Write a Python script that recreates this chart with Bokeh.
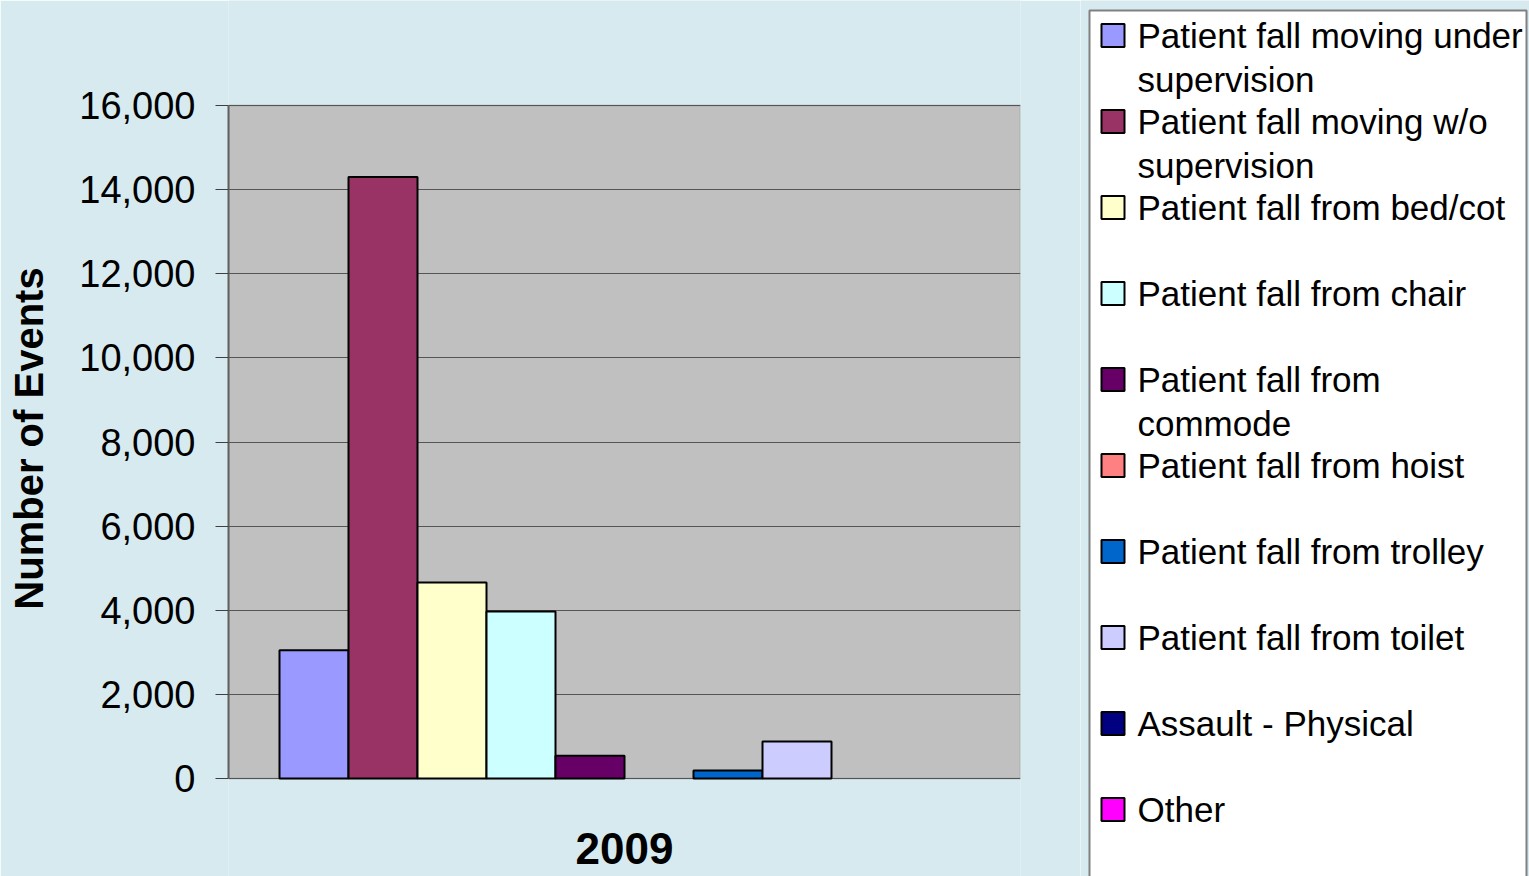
from bokeh.plotting import figure
from bokeh.layouts import row
from bokeh.models import Range1d, NumeralTickFormatter, FixedTicker, ColumnDataSource, BoxAnnotation
from bokeh.core.properties import value
from bokeh.embed import file_html
from bokeh.resources import INLINE

# ---- data ----
years = ["2009"]
series = [
    "Patient fall moving under supervision",
    "Patient fall moving w/o supervision",
    "Patient fall from bed/cot",
    "Patient fall from chair",
    "Patient fall from commode",
    "Patient fall from hoist",
    "Patient fall from trolley",
    "Patient fall from toilet",
    "Assault - Physical",
    "Other",
]
values_2009 = [3050, 14300, 4660, 3970, 540, 0, 190, 880, 0, 0]
colors = ["#9999FF", "#993366", "#FFFFCC", "#CCFFFF", "#660066",
          "#FF8080", "#0066CC", "#CCCCFF", "#000080", "#FF00FF"]
legend_lines = [
    ["Patient fall moving under", "supervision"],
    ["Patient fall moving w/o", "supervision"],
    ["Patient fall from bed/cot"],
    ["Patient fall from chair"],
    ["Patient fall from", "commode"],
    ["Patient fall from hoist"],
    ["Patient fall from trolley"],
    ["Patient fall from toilet"],
    ["Assault - Physical"],
    ["Other"],
]
y_ticks = [0, 2000, 4000, 6000, 8000, 10000, 12000, 14000, 16000]
y_min, y_max = 0, 16000

BG = "#D6EAEF"
FONT = "Liberation Sans"
H = 876

# pixel geometry of the plot area (frame spans the full height)
plot_top_px, plot_bot_px = 105, 778
k = (plot_bot_px - plot_top_px) / (y_max - y_min)
yr_top = y_max + plot_top_px / k
yr_bot = y_min - (H - plot_bot_px) / k

# ---- main chart ----
p = figure(width=1080, height=H, x_range=Range1d(0, 1), y_range=Range1d(yr_bot, yr_top),
           output_backend="svg", toolbar_location=None, x_axis_location=None,
           min_border_left=228, min_border_right=60, min_border_top=0, min_border_bottom=0)
p.background_fill_color = BG
p.border_fill_color = BG
p.outline_line_color = None

p.add_layout(BoxAnnotation(left=0, right=1, bottom=y_min, top=y_max, fill_color="#C0C0C0",
                           fill_alpha=1, line_color="#808080", line_width=2, level="image"))

n = len(series)
w = 69 / 792
margin = (1 - n * w) / 2
xs = [margin + w * (i + 0.5) for i in range(n)]
keep = [i for i in range(n) if values_2009[i] > 0]
src = ColumnDataSource(dict(x=[xs[i] for i in keep], top=[values_2009[i] for i in keep],
                            color=[colors[i] for i in keep]))
p.vbar(x="x", top="top", bottom=0, width=w, source=src, fill_color="color",
       line_color="black", line_width=2)

p.xgrid.visible = False
p.ygrid.grid_line_color = "#555555"
p.ygrid.grid_line_width = 1
p.ygrid.bounds = (y_min, y_max)
p.ygrid.ticker = FixedTicker(ticks=y_ticks)
p.yaxis.ticker = FixedTicker(ticks=y_ticks)
p.yaxis.bounds = (y_min, y_max)
p.yaxis.formatter = NumeralTickFormatter(format="0,0")
p.yaxis.major_label_text_font = FONT
p.yaxis.major_label_text_font_size = "38px"
p.yaxis.major_label_text_color = "black"
p.yaxis.major_tick_out = 13
p.yaxis.major_tick_in = 0
p.yaxis.minor_tick_line_color = None
p.yaxis.major_tick_line_color = "#404040"
p.yaxis.axis_line_color = "#606060"
p.yaxis.axis_line_width = 2
p.yaxis.major_label_standoff = 20
p.yaxis.axis_label = "Number of Events"
p.yaxis.axis_label_text_font = FONT
p.yaxis.axis_label_text_font_style = "bold"
p.yaxis.axis_label_text_font_size = "40px"
p.yaxis.axis_label_text_color = "black"
p.yaxis.axis_label_standoff = 25

# category label under the group
label_y = y_min - (848 - plot_bot_px) / k
p.text(x=[0.5], y=[label_y], text=years, text_align="center", text_baseline="middle",
       text_font=value(FONT), text_font_style="bold", text_font_size="44px", text_color="black")

# ---- legend panel ----
LW = 1529 - 1080
L = figure(width=LW, height=H, x_range=Range1d(0, LW), y_range=Range1d(H, 0),
           output_backend="svg", toolbar_location=None, min_border=0,
           x_axis_location=None, y_axis_location=None)
L.background_fill_color = BG
L.border_fill_color = BG
L.outline_line_color = None
L.grid.visible = False

L.quad(left=[9], right=[446], top=[10], bottom=[H + 20], fill_color="white",
       line_color="#808080", line_width=2)
centers = [35 + 86 * i for i in range(n)]
L.rect(x=[32.5] * n, y=centers, width=23, height=23, fill_color=colors,
       line_color="black", line_width=2)
tx, ty, tt = [], [], []
for cy, lines in zip(centers, legend_lines):
    for j, ln in enumerate(lines):
        tx.append(57)
        ty.append(cy + 44 * j)
        tt.append(ln)
L.text(x=tx, y=ty, text=tt, text_baseline="middle", text_align="left",
       text_font=value(FONT), text_font_size="35px", text_color="black")

layout = row(p, L, spacing=0)
open("out.html", "w").write(file_html(layout, INLINE))
